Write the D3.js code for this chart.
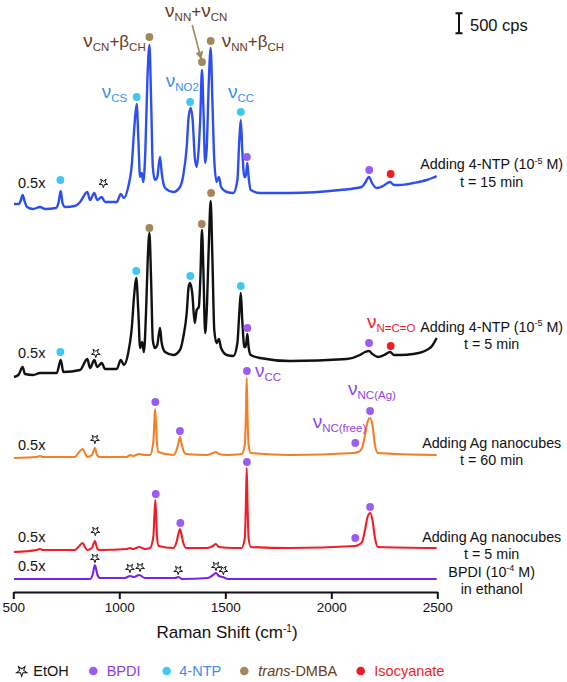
<!DOCTYPE html>
<html><head><meta charset="utf-8">
<script src="https://cdn.jsdelivr.net/npm/d3@7"></script>
<style>body{margin:0;background:#fff}svg{display:block}</style>
</head><body>
<script>
// ---------- DATA (Raman shift cm-1, intensity cps relative to trace offset) ----------
const ntp15 = [[503,75],[527,75],[536,175],[544,300],[553,150],[565,0],[593,-50],[626,0],[650,-50],[701,-25],[713,100],[724,400],[732,100],[744,0],[791,25],[815,125],[849,375],[862,175],[882,350],[896,175],[917,250],[933,125],[988,125],[1007,325],[1022,225],[1042,500],[1058,1000],[1071,2000],[1082,2575],[1090,1675],[1098,750],[1106,850],[1113,625],[1123,1425],[1132,3100],[1142,4050],[1150,2675],[1158,1000],[1168,675],[1179,750],[1192,1250],[1200,850],[1216,475],[1255,375],[1286,500],[1302,800],[1318,1500],[1327,2250],[1337,2475],[1346,2175],[1356,1250],[1365,1000],[1375,1500],[1382,2250],[1390,3425],[1397,2425],[1405,1100],[1412,1425],[1422,3100],[1431,3975],[1439,2675],[1448,1175],[1459,625],[1470,750],[1480,500],[1507,375],[1538,350],[1557,675],[1566,1675],[1573,2175],[1580,1425],[1590,750],[1596,750],[1604,1100],[1610,750],[1620,425],[1664,350],[1805,350],[2041,425],[2143,500],[2159,600],[2178,750],[2192,600],[2214,475],[2244,525],[2277,625],[2296,550],[2324,550],[2387,600],[2450,675],[2475,725],[2497,775]];
const ntp5 = [[503,-50],[524,0],[544,200],[555,25],[594,0],[626,50],[705,50],[724,375],[736,75],[815,125],[849,400],[862,175],[882,375],[896,200],[917,300],[933,150],[988,150],[1007,375],[1022,250],[1042,550],[1058,1125],[1071,2050],[1080,2425],[1090,1550],[1098,675],[1108,825],[1116,575],[1126,1550],[1134,2875],[1142,3550],[1150,2375],[1158,875],[1168,675],[1179,750],[1192,1175],[1200,800],[1216,575],[1255,500],[1286,625],[1302,950],[1318,1550],[1327,2200],[1334,2300],[1344,2050],[1356,1300],[1365,1625],[1375,1700],[1382,2375],[1390,3625],[1397,2550],[1405,1050],[1412,1550],[1422,3200],[1431,4350],[1439,2950],[1448,1125],[1459,800],[1470,900],[1480,675],[1507,500],[1538,475],[1557,800],[1566,1550],[1573,2050],[1580,1375],[1590,700],[1596,700],[1604,1025],[1610,700],[1620,500],[1664,425],[1805,350],[2073,400],[2135,500],[2159,575],[2178,600],[2194,525],[2222,450],[2249,500],[2277,575],[2296,500],[2324,500],[2387,525],[2450,625],[2475,725],[2497,925]];
const ag60 = [[503,-25],[610,0],[626,25],[640,0],[752,0],[791,0],[807,100],[827,200],[838,100],[849,0],[871,50],[885,225],[895,50],[906,0],[1035,0],[1050,50],[1065,25],[1094,75],[1121,50],[1145,50],[1161,400],[1165,850],[1169,1200],[1173,850],[1177,400],[1184,125],[1255,50],[1270,175],[1280,375],[1286,500],[1292,375],[1301,175],[1315,75],[1412,50],[1442,100],[1455,125],[1470,75],[1507,50],[1577,75],[1592,300],[1597,1000],[1601,1975],[1605,1000],[1610,300],[1620,100],[1805,50],[2104,100],[2128,125],[2145,225],[2159,550],[2171,875],[2183,975],[2194,800],[2206,300],[2220,100],[2497,50]];
const ag5 = [[503,-50],[610,0],[626,25],[640,0],[752,0],[791,0],[807,75],[827,175],[838,75],[849,0],[871,50],[885,225],[895,50],[906,0],[1035,25],[1050,50],[1065,25],[1094,75],[1121,25],[1145,50],[1161,350],[1165,800],[1170,1250],[1174,800],[1178,350],[1185,100],[1255,50],[1270,200],[1280,425],[1286,525],[1292,425],[1301,200],[1315,50],[1412,50],[1442,100],[1455,150],[1470,75],[1538,50],[1577,50],[1592,300],[1597,1100],[1601,2050],[1605,1100],[1610,300],[1620,75],[1805,50],[2113,100],[2128,125],[2145,200],[2159,500],[2171,825],[2183,925],[2194,750],[2206,300],[2220,75],[2497,50]];
const bpdi = [[503,0],[862,0],[874,100],[885,350],[897,100],[909,25],[1026,25],[1050,75],[1069,50],[1094,100],[1121,25],[1145,25],[1263,25],[1278,50],[1296,0],[1418,25],[1442,100],[1456,150],[1470,75],[1488,50],[1513,0],[1538,0],[2497,0]];

const traceNames = ["bpdi","ag5","ag60","ntp5","ntp15"];
const traceData = [bpdi, ag5, ag60, ntp5, ntp15];
const offsets = [325, 1050, 3375, 5425, 9625];
const traceColors = ["#7b22ea","#f01e27","#f57f27","#111111","#2d4ff2"];
const labelLine1 = ["BPDI (10|-4| M)","Adding Ag nanocubes","Adding Ag nanocubes","Adding 4-NTP (10|-5| M)","Adding 4-NTP (10|-5| M)"];
const labelLine2 = ["in ethanol","t = 5 min","t = 60 min","t = 5 min","t = 15 min"];

// markers: [type, Raman shift, absolute cps]
const markers = [
 ["ntp",722,10300],["etoh",925,10225],["ntp",1082,12375],["dmba",1142,13875],["ntp",1334,12250],["dmba",1390,13250],["dmba",1431,13775],["ntp",1573,12000],["bpdi",1602,10875],["bpdi",2179,10550],["iso",2280,10450],
 ["ntp",722,6000],["etoh",889,5975],["ntp",1080,8025],["dmba",1142,9100],["ntp",1335,7900],["dmba",1389,9200],["dmba",1433,9975],["ntp",1573,7650],["bpdi",1604,6600],["bpdi",2178,6225],["iso",2280,6150],
 ["etoh",885,3825],["bpdi",1170,4750],["bpdi",1286,4025],["bpdi",1602,5525],["bpdi",2183,4525],["bpdi",2113,3725],
 ["etoh",887,1525],["bpdi",1172,2450],["bpdi",1288,1725],["bpdi",1602,3250],["bpdi",2183,2125],["bpdi",2113,1350],
 ["etoh",885,850],["etoh",1050,600],["etoh",1098,625],["etoh",1278,550],["etoh",1456,650],["etoh",1491,550]
];
const xTicks = [500,1000,1500,2000,2500];
const legendKeys = ["etoh","bpdi","ntp","dmba","iso"];
const legendLabels = ["EtOH","BPDI","4-NTP","trans-DMBA","Isocyanate"];

// ---------- STYLE ----------
const markerColor = {bpdi:"#9a5cf2", ntp:"#40c8f4", dmba:"#a5865a", iso:"#f01c24"};
const legendTextColor = {etoh:"#111", bpdi:"#8b3cf0", ntp:"#3a8ff0", dmba:"#6b3a1d", iso:"#f01c24"};
const FONT = "'Liberation Sans', Arial, Helvetica, sans-serif";

const W = 567, H = 682;
const svg = d3.select("body").append("svg").attr("width",W).attr("height",H)
  .style("font-family",FONT);

const x = d3.scaleLinear().domain([500,2500]).range([13.3,437.3]);
const y = d3.scaleLinear().domain([0,14800]).range([592,0]);

// traces
const line = d3.line().x(d=>x(d[0])).y(d=>y(d[1])).curve(d3.curveMonotoneX);
traceData.forEach((tr,i)=>{
  svg.append("path").datum(tr.map(p=>[p[0], p[1]+offsets[i]]))
    .attr("d",line).attr("fill","none").attr("stroke",traceColors[i])
    .attr("stroke-width", i>=3 ? 2.4 : 2.1).attr("stroke-linejoin","round");
});

// axis
const axisG = svg.append("g").attr("transform",`translate(0,${y(0)})`);
axisG.call(d3.axisBottom(x).tickValues(xTicks).tickFormat(d3.format("d")).tickSize(7).tickPadding(5).tickSizeOuter(0));
axisG.select(".domain").attr("stroke","#111").attr("stroke-width",2);
axisG.selectAll(".tick line").attr("stroke","#111").attr("stroke-width",2);
axisG.selectAll(".tick text").attr("font-family",FONT).attr("font-size",13.5).attr("fill","#111").attr("dy","0.6em");

// rich text helper
function rich(sel, px, py, parts, color, anchor){
  const t = sel.append("text").attr("x",px).attr("y",py).attr("fill",color).attr("text-anchor",anchor||"start");
  let cur = 0;
  const roles = {v:[19,0], b:[17,0], s:[11.5,4], n:[14,0], p:[9,-5.5]};
  parts.forEach(p=>{
    const r = roles[p[1]];
    const ts = t.append("tspan").text(p[0]).attr("font-size",r[0]).attr("dy", r[1]-cur);
    cur = r[1];
  });
  return t;
}

// markers
const starSym = d3.symbol().type(d3.symbolStar).size(24);
markers.forEach(m=>{
  if(m[0]==="etoh"){
    svg.append("path").attr("d",starSym()).attr("transform",`translate(${x(m[1])},${y(m[2])}) rotate(36)`)
      .attr("fill","#fff").attr("stroke","#111").attr("stroke-width",0.9);
  } else {
    svg.append("circle").attr("cx",x(m[1])).attr("cy",y(m[2])).attr("r",3.9).attr("fill",markerColor[m[0]]);
  }
});

// band annotations: [parts, shift, cps, color]
const brown = "#6b3a1d", nblue = "#3a8fef", npurp = "#8f45ee", nred = "#f01c24";
const bands = [
  [[["ν","v"],["CN","s"],["+","b"],["β","b"],["CH","s"]], 830, 13630, brown],
  [[["ν","v"],["NN","s"],["+","b"],["ν","v"],["CN","s"]], 1216, 14380, brown],
  [[["ν","v"],["NN","s"],["+","b"],["β","b"],["CH","s"]], 1483, 13630, brown],
  [[["ν","v"],["CS","s"]], 917, 12350, nblue],
  [[["ν","v"],["NO2","s"]], 1219, 12630, nblue],
  [[["ν","v"],["CC","s"]], 1513, 12350, nblue],
  [[["ν","v"],["N=C=O","s"]], 2168, 6590, nred],
  [[["ν","v"],["CC","s"]], 1640, 5380, npurp],
  [[["ν","v"],["NC(Ag)","s"]], 2079, 4925, npurp],
  [[["ν","v"],["NC(free)","s"]], 1912, 4110, npurp]
];
bands.forEach(b=>rich(svg, x(b[1]), y(b[2]), b[0], b[3]));

// arrow
const defs = svg.append("defs");
defs.append("marker").attr("id","ah").attr("viewBox","0 0 10 10").attr("refX",9).attr("refY",5)
  .attr("markerWidth",5).attr("markerHeight",5).attr("orient","auto")
  .append("path").attr("d","M0,0 L10,5 L0,10 z").attr("fill","#a5865a");
svg.append("line").attr("x1",x(1344)).attr("y1",y(14175)).attr("x2",x(1386)).attr("y2",y(13330))
  .attr("stroke","#a5865a").attr("stroke-width",1.6).attr("marker-end","url(#ah)");

// 0.5x labels
const halfY = [566, 536.7, 445, 353.3, 183];
halfY.forEach(v=>svg.append("text").attr("x",18).attr("y",v+5).attr("font-size",14.5).attr("fill","#111").text("0.5x"));

// trace labels
const lab1Y = [571.7, 536.7, 443.3, 326.7, 164.3];
const lab2Y = [589, 554, 460, 344, 181.7];
labelLine1.forEach((s,i)=>{
  const parts = s.split("|");
  const t = svg.append("text").attr("x",491.7).attr("y",lab1Y[i]+5).attr("text-anchor","middle").attr("font-size",14.3).attr("fill","#111");
  t.append("tspan").text(parts[0]);
  if(parts.length>1){
    t.append("tspan").text(parts[1]).attr("font-size",9).attr("dy",-5.5);
    t.append("tspan").text(parts[2]).attr("dy",5.5);
  }
  svg.append("text").attr("x",491.7).attr("y",lab2Y[i]+5).attr("text-anchor","middle").attr("font-size",14.3).attr("fill","#111").text(labelLine2[i]);
});

// scale bar
const sbx = 459, sTop = y(14467), sBot = y(13967);
svg.append("path").attr("d",`M${sbx-3.5},${sTop}H${sbx+3.5}M${sbx},${sTop}V${sBot}M${sbx-3.5},${sBot}H${sbx+3.5}`)
  .attr("stroke","#111").attr("stroke-width",2).attr("fill","none");
svg.append("text").attr("x",470).attr("y",31).attr("font-size",16.5).attr("fill","#111").text("500 cps");

// axis title
const at = svg.append("text").attr("x",227).attr("y",638).attr("text-anchor","middle").attr("fill","#111").attr("font-size",17);
at.append("tspan").text("Raman Shift (cm");
at.append("tspan").text("-1").attr("font-size",10).attr("dy",-6.5);
at.append("tspan").text(")").attr("dy",6.5);

// legend
const legX = [21.7, 93.3, 166.7, 244.3, 360.7];
const legT = [33.3, 106.7, 179.3, 258.3, 374.3];
legendKeys.forEach((k,i)=>{
  if(k==="etoh"){
    svg.append("path").attr("d",d3.symbol().type(d3.symbolStar).size(34)()).attr("transform",`translate(${legX[i]},671) rotate(36)`)
      .attr("fill","#fff").attr("stroke","#111").attr("stroke-width",1);
  } else {
    svg.append("circle").attr("cx",legX[i]).attr("cy",671).attr("r",4.3).attr("fill",markerColor[k]);
  }
  const t = svg.append("text").attr("x",legT[i]).attr("y",676).attr("font-size",14.5).attr("fill",legendTextColor[k]);
  if(k==="dmba"){
    t.append("tspan").text("trans").attr("font-style","italic");
    t.append("tspan").text("-DMBA");
  } else t.text(legendLabels[i]);
});
</script>
</body></html>
